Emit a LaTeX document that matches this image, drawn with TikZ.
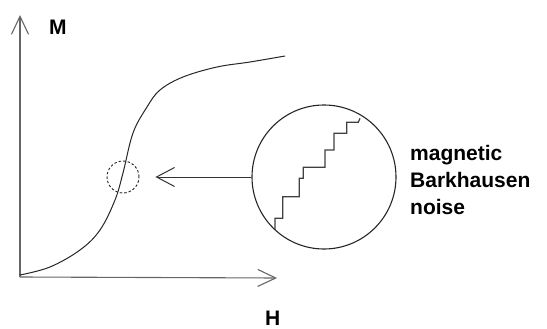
\documentclass[tikz,border=0pt]{standalone}
\usepackage{fontspec}
\setmainfont{Liberation Sans}
\usetikzlibrary{arrows.meta}
\begin{document}
\begin{tikzpicture}[x=1pt,y=-1pt,
  axisline/.style={draw=black!60,line width=1.1pt,-{Straight Barb[length=18pt,width=17pt,line width=1.1pt]}},
  curveline/.style={draw=black!85,line width=1pt},
  label/.style={font=\fontsize{21}{26.7}\selectfont\bfseries,inner sep=0pt},
  stairs/.style={draw=black!75,line width=1.2pt}]
\useasboundingbox (0,0) rectangle (547,329);
\coordinate (O) at (20,277);
\coordinate (ytip) at (20,15);
\coordinate (xtip) at (277,278);
\draw[axisline] (O) -- (ytip);
\draw[axisline] (O) -- (xtip);
\node[label,anchor=base west] (M) at (49,35) {M};
\node[label,anchor=base west] (H) at (265,325) {H};
\draw[curveline] plot[smooth,tension=0.6] coordinates {(20,275) (50,267) (80,250) (100,230) (115,200) (123,173) (133,133) (147,107) (160,90) (183,77) (217,67) (250,62) (285,56)};
\node[draw=black!85,dashed,dash pattern=on 2.5pt off 2pt,line width=0.9pt,circle,minimum size=32pt,inner sep=0pt] (small) at (123,177) {};
\node[draw=black!85,line width=1.1pt,circle,minimum size=144pt,inner sep=0pt] (big) at (324,177) {};
\draw[draw=black!80,line width=1pt,-{Straight Barb[length=18pt,width=19pt,line width=1pt]},shorten >=16pt] (big.west) -- (small.east);
\draw[stairs] (275,230) -- (275,218.3) -- (282.7,218.3) -- (282.7,196.7) -- (299.3,196.7) -- (299.3,178.3) -- (303.3,178.3) -- (303.3,167.3) -- (325,167.3) -- (325,150) -- (334,150) -- (334,133.3) -- (346.7,133.3) -- (346.7,122.3) -- (358.3,122.3) -- (360,118.3);
\node[label,anchor=base west,align=left] (txt) at (410,214) {magnetic\\Barkhausen\\noise};
\end{tikzpicture}
\end{document}
